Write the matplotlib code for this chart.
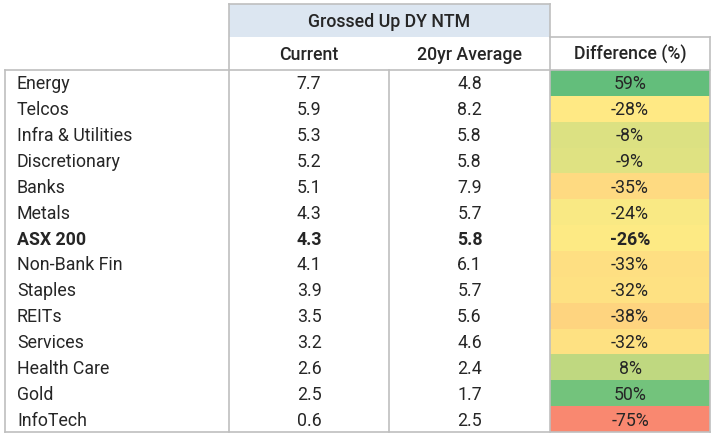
#!/usr/bin/env python3
"""Grossed up DY NTM table: current vs 20yr average, with difference heat colours."""
import numpy as np
import matplotlib
matplotlib.use("Agg")
import matplotlib.pyplot as plt
from matplotlib.colors import LinearSegmentedColormap, TwoSlopeNorm
from matplotlib.patches import Rectangle

sectors = ["Energy", "Telcos", "Infra & Utilities", "Discretionary", "Banks", "Metals",
           "ASX 200", "Non-Bank Fin", "Staples", "REITs", "Services", "Health Care",
           "Gold", "InfoTech"]
current = [7.7, 5.9, 5.3, 5.2, 5.1, 4.3, 4.3, 4.1, 3.9, 3.5, 3.2, 2.6, 2.5, 0.6]
avg_20yr = [4.8, 8.2, 5.8, 5.8, 7.9, 5.7, 5.8, 6.1, 5.7, 5.6, 4.6, 2.4, 1.7, 2.5]
diff_pct = [59, -28, -8, -9, -35, -24, -26, -33, -32, -38, -32, 8, 50, -75]
bold_rows = {"ASX 200"}

group_title = "Grossed Up DY NTM"
col_titles = ["Current", "20yr Average", "Difference (%)"]

# layout (pixel coordinates, figure is 715x437)
W, H = 715, 437
X_LEFT, X_CUR, X_AVG, X_DIFF, X_RIGHT = 5, 229, 389, 550, 710
Y_TOP, Y_SUB, Y_BODY, Y_BOT = 4, 37, 70, 432
LINE = "#BFBFBF"
TXT = "#262626"
FS = 12.8

plt.rcParams["font.family"] = ["Roboto", "DejaVu Sans"]

fig = plt.figure(figsize=(W / 100, H / 100), dpi=100)
ax = fig.add_axes([0, 0, 1, 1])
ax.set_xlim(0, W)
ax.set_ylim(H, 0)
ax.axis("off")

BASE = 6.5  # baseline offset below the cell middle

# header band
ax.add_patch(Rectangle((X_CUR, Y_TOP), X_DIFF - X_CUR, Y_SUB - Y_TOP,
                       facecolor="#DCE6F1", edgecolor="none", zorder=1))
ax.text((X_CUR + X_DIFF) / 2, (Y_TOP + Y_SUB) / 2 + BASE, group_title, ha="center",
        va="baseline", fontsize=FS, color=TXT, weight="medium")
sub_y = (Y_SUB + Y_BODY) / 2 + BASE
for (x0, x1), title in zip([(X_CUR, X_AVG), (X_AVG, X_DIFF), (X_DIFF, X_RIGHT)], col_titles):
    ax.text((x0 + x1) / 2, sub_y, title, ha="center", va="baseline",
            fontsize=FS, color=TXT, weight="medium")

# difference colour scale (red - yellow - green, mid at median)
cmap = LinearSegmentedColormap.from_list("ryg", ["#F98870", "#FFEB84", "#63BE7B"])
norm = TwoSlopeNorm(vmin=min(diff_pct), vcenter=float(np.median(diff_pct)), vmax=max(diff_pct))

row_h = (Y_BOT - Y_BODY) / len(sectors)
for i, (name, cur, avg, d) in enumerate(zip(sectors, current, avg_20yr, diff_pct)):
    y0 = Y_BODY + i * row_h
    yb = y0 + row_h / 2 + BASE
    wt = "bold" if name in bold_rows else "normal"
    ax.add_patch(Rectangle((X_DIFF, y0), X_RIGHT - X_DIFF, row_h,
                           facecolor=cmap(norm(d)), edgecolor="none", zorder=1))
    ax.text(X_LEFT + 12, yb, name, ha="left", va="baseline", fontsize=FS, color=TXT, weight=wt)
    ax.text((X_CUR + X_AVG) / 2, yb, f"{cur:.1f}", ha="center", va="baseline",
            fontsize=FS, color=TXT, weight=wt)
    ax.text((X_AVG + X_DIFF) / 2, yb, f"{avg:.1f}", ha="center", va="baseline",
            fontsize=FS, color=TXT, weight=wt)
    ax.text((X_DIFF + X_RIGHT) / 2, yb, f"{d}%", ha="center", va="baseline",
            fontsize=FS, color=TXT, weight=wt)

# grid lines
lw = 1.2
segs = [
    ((X_CUR, X_DIFF), (Y_TOP, Y_TOP)),
    ((X_DIFF, X_RIGHT), (Y_SUB, Y_SUB)),
    ((X_LEFT, X_RIGHT), (Y_BODY, Y_BODY)),
    ((X_LEFT, X_RIGHT), (Y_BOT, Y_BOT)),
    ((X_LEFT, X_LEFT), (Y_BODY, Y_BOT)),
    ((X_CUR, X_CUR), (Y_TOP, Y_BOT)),
    ((X_AVG, X_AVG), (Y_BODY, Y_BOT)),
    ((X_DIFF, X_DIFF), (Y_TOP, Y_BOT)),
    ((X_RIGHT, X_RIGHT), (Y_SUB, Y_BOT)),
]
for xs, ys in segs:
    ax.plot(xs, ys, color=LINE, lw=lw, solid_capstyle="projecting", zorder=3)

fig.savefig("out.png", dpi=100)
